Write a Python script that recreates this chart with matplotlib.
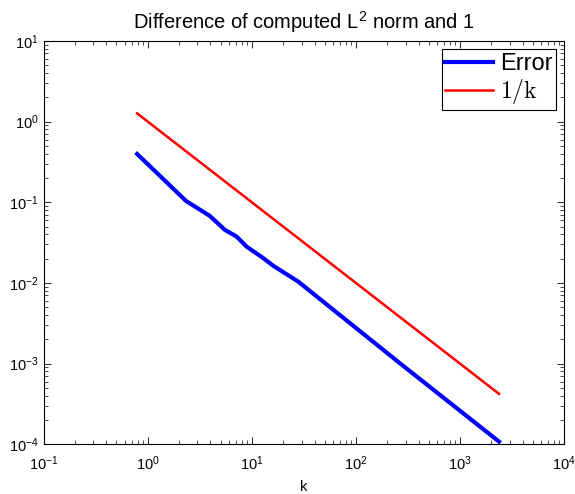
import matplotlib
matplotlib.use("Agg")
import matplotlib.pyplot as plt

plt.rcParams['font.family'] = ['Liberation Sans', 'DejaVu Sans']
plt.rcParams['mathtext.fontset'] = 'custom'
plt.rcParams['mathtext.rm'] = 'Liberation Sans'
plt.rcParams['mathtext.it'] = 'Liberation Sans:italic'
plt.rcParams['mathtext.bf'] = 'Liberation Sans:bold'

# computed error against k
k_err = [0.79, 2.33, 3.95, 5.51, 7.14, 8.91, 12.9, 16.1, 27.9, 265.0, 2370.0]
err = [0.398, 0.104, 0.0678, 0.0455, 0.0376, 0.0282, 0.0203, 0.0163, 0.0104,
       1.01e-3, 1.08e-4]

# reference slope 1/k
k_ref = [0.79, 2370.0]
ref = [1.266, 4.22e-4]

fig = plt.figure(figsize=(5.75, 4.94), dpi=100)
ax = fig.add_axes([0.076, 0.1006, 0.905, 0.8164])

ax.loglog(k_err, err, color=(0, 0, 1), linewidth=3.0, label='Error')
ax.loglog(k_ref, ref, color=(1, 0, 0), linewidth=1.8, label=r'$1/\mathrm{k}$')

ax.set_xlim(1e-1, 1e4)
ax.set_ylim(1e-4, 1e1)
ax.tick_params(which='both', direction='in', top=True, right=True, labelsize=10.5)
ax.tick_params(axis='x', which='both', pad=7)
ax.tick_params(which='major', length=5, width=0.6)
ax.tick_params(which='minor', length=3, width=0.5)
for sp in ax.spines.values():
    sp.set_linewidth(0.8)

ax.set_title(r'Difference of computed L$^{\mathregular{2}}$ norm and 1', fontsize=14.5, pad=9)
ax.set_xlabel('k', fontsize=10.5, labelpad=5)

leg = ax.legend(loc='upper right', fontsize=17, fancybox=False, framealpha=1,
                edgecolor='black', handlelength=2.0, handletextpad=0.3,
                borderpad=0.15, labelspacing=0.1, borderaxespad=0.35)
leg.get_frame().set_linewidth(0.8)
leg.get_texts()[1].set_math_fontfamily('cm')

fig.savefig('out.png', dpi=100)
